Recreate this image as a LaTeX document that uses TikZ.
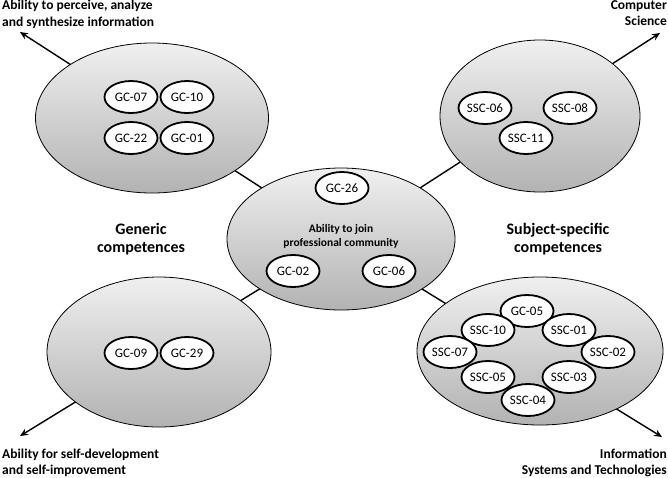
\documentclass[tikz,border=0pt]{standalone}
\usepackage{fontspec}
\setmainfont{Carlito}
\usetikzlibrary{arrows.meta,backgrounds,shapes.geometric}
\tikzset{
  big/.style={ellipse, draw=black, line width=0.8pt, top color=gray!12, bottom color=gray!60, inner sep=0pt},
  small/.style={ellipse, draw=black, line width=1.8pt, fill=white, minimum width=53pt, minimum height=32pt, inner sep=0pt, font=\fontsize{13}{15}\selectfont},
  conn/.style={line width=1.4pt, draw=black},
  arr/.style={conn, -{Stealth[length=8pt,width=7pt]}},
  outer/.style={font=\bfseries\fontsize{13.5}{16.5}\selectfont, inner sep=0pt},
  group/.style={font=\bfseries\fontsize{16}{18.5}\selectfont, align=center, inner sep=0pt}
}
\begin{document}
\begin{tikzpicture}[x=1pt,y=-1pt]
\useasboundingbox (0,0) rectangle (668,477);
\coordinate (tipTL) at (20,32);
\coordinate (tipTR) at (660,33);
\coordinate (tipBL) at (20,436);
\coordinate (tipBR) at (662,437);
% big ellipses
\node[big, minimum width=233pt, minimum height=150pt] (tl) at (152,118) {};
\node[big, minimum width=200pt, minimum height=152pt] (tr) at (540,116) {};
\node[big, minimum width=224pt, minimum height=150pt] (bl) at (159,352) {};
\node[big, minimum width=246pt, minimum height=148pt] (br) at (540,351) {};
\node[big, minimum width=228pt, minimum height=142pt] (cen) at (341,239) {};
% connectors behind
\begin{pgfonlayer}{background}
\draw[arr] (cen.center) -- (tipTL);
\draw[arr] (cen.center) -- (tipTR);
\draw[arr] (cen.center) -- (tipBL);
\draw[arr] (cen.center) -- (tipBR);
\end{pgfonlayer}
% TL
\node[small] (gc07) at (131,97) {GC-07};
\node[small] (gc10) at (187,97) {GC-10};
\node[small] (gc22) at (131,138) {GC-22};
\node[small] (gc01) at (187,138) {GC-01};
% TR
\node[small] (ssc06) at (485,108) {SSC-06};
\node[small] (ssc08) at (570,108) {SSC-08};
\node[small] (ssc11) at (526,138) {SSC-11};
% BL
\node[small] (gc09) at (131,353) {GC-09};
\node[small] (gc29) at (187,353) {GC-29};
% center
\node[small] (gc26) at (342,188) {GC-26};
\node[small] (gc02) at (293,271) {GC-02};
\node[small] (gc06) at (389,271) {GC-06};
\node[font=\bfseries\fontsize{11.5}{14}\selectfont, align=center, inner sep=0pt] (cenlbl) at (341,236) {Ability to join\\professional community};
% BR
\node[small] (gc05) at (527,311) {GC-05};
\node[small] (ssc10) at (488,330) {SSC-10};
\node[small] (ssc01) at (569,330) {SSC-01};
\node[small] (ssc07) at (450,352) {SSC-07};
\node[small] (ssc02) at (608,352) {SSC-02};
\node[small] (ssc05) at (488,377) {SSC-05};
\node[small] (ssc03) at (569,377) {SSC-03};
\node[small] (ssc04) at (528,400) {SSC-04};
% group labels
\node[group] (gen) at (141,239) {Generic\\competences};
\node[group] (subj) at (558,239) {Subject-specific\\competences};
% outer labels
\node[outer, anchor=north west, align=left] (lblTL) at (2,0) {Ability to perceive, analyze\\and synthesize information};
\node[outer, anchor=north east, align=right] (lblTR) at (667,0) {Computer\\Science};
\node[outer, anchor=south west, align=left] (lblBL) at (2,477) {Ability for self-development\\and self-improvement};
\node[outer, anchor=south east, align=right] (lblBR) at (667,477) {Information\\Systems and Technologies};
\end{tikzpicture}
\end{document}
